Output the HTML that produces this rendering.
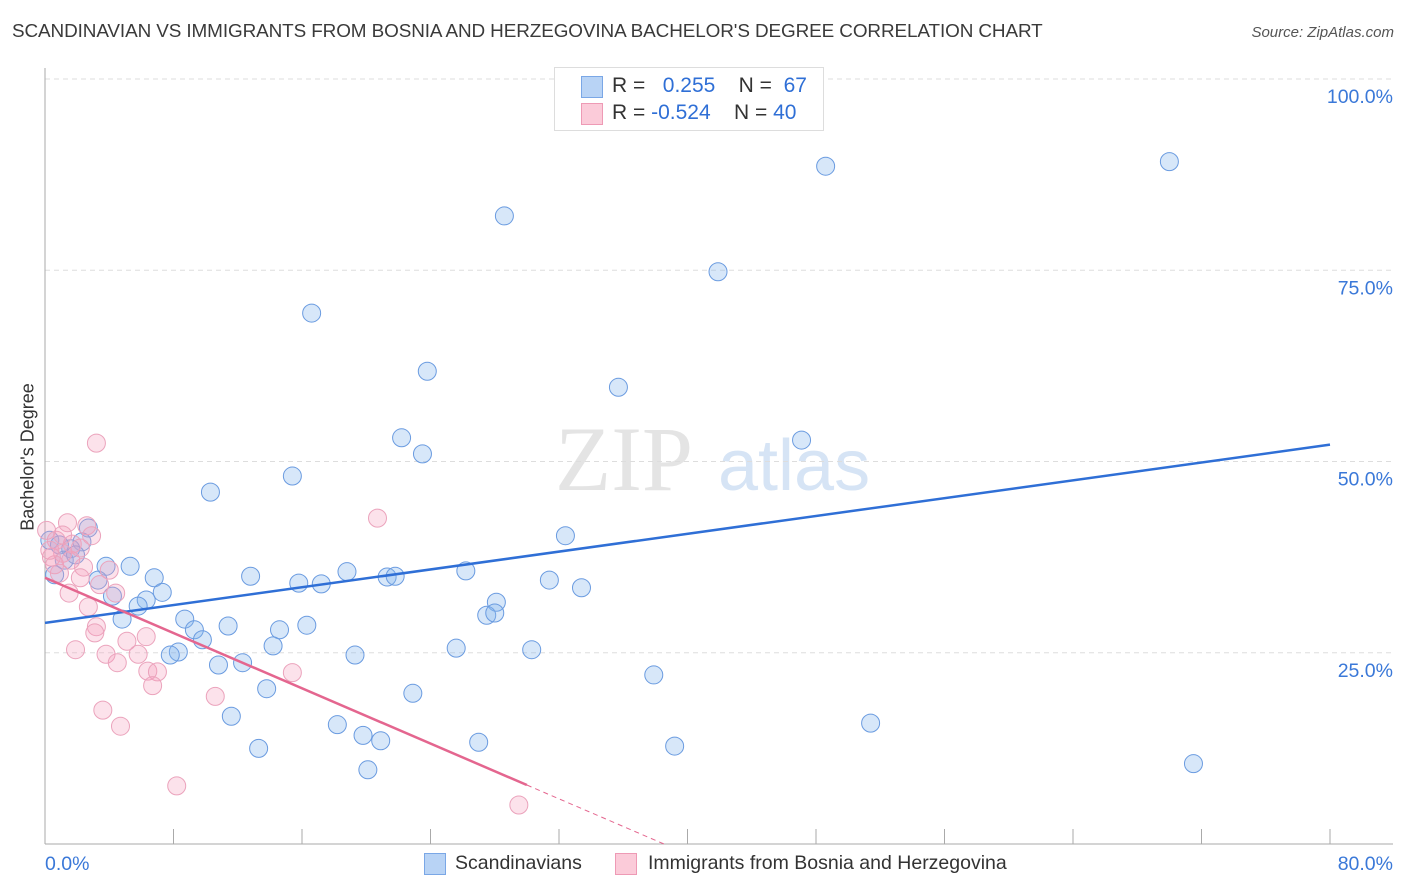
<!DOCTYPE html>
<html><head><meta charset="utf-8"><style>
body{margin:0;background:#fff;font-family:"Liberation Sans",sans-serif;}
#wrap{position:relative;width:1406px;height:892px;overflow:hidden;}
.t{position:absolute;white-space:nowrap;}
</style></head><body>
<div id="wrap">
<div class="t" style="left:12px;top:21px;font-size:18.9px;color:#3a3a3a;letter-spacing:-0.1px">SCANDINAVIAN VS IMMIGRANTS FROM BOSNIA AND HERZEGOVINA BACHELOR'S DEGREE CORRELATION CHART</div>
<div class="t" style="right:12px;top:24px;font-size:15px;color:#555;font-style:italic">Source: ZipAtlas.com</div>
<svg id="svg" width="1406" height="892" style="position:absolute;left:0;top:0"></svg>
<div class="t" style="left:28px;top:457px;transform:translate(-50%,-50%) rotate(-90deg);font-size:18px;color:#333">Bachelor's Degree</div>
<div style="position:absolute;left:554px;top:67px;width:268px;height:62px;border:1px solid #ddd;background:#fff;font-size:21px;">
 <div style="position:absolute;left:26px;top:8px;width:20px;height:20px;background:#b8d3f5;border:1px solid #7aa7e6"></div>
 <div class="t" style="left:57px;top:6px;color:#333">R = <span style="color:#2f6fd6">&nbsp;&nbsp;0.255</span>&nbsp;&nbsp;&nbsp; N = &nbsp;<span style="color:#2f6fd6">67</span></div>
 <div style="position:absolute;left:26px;top:35px;width:20px;height:20px;background:#fbcbd9;border:1px solid #ee9ab5"></div>
 <div class="t" style="left:57px;top:33px;color:#333">R = <span style="color:#2f6fd6">-0.524</span>&nbsp;&nbsp;&nbsp; N = <span style="color:#2f6fd6">40</span></div>
</div>
<div style="position:absolute;left:424px;top:853px;width:20px;height:20px;background:#b8d3f5;border:1px solid #7aa7e6"></div>
<div class="t" style="left:455px;top:852px;font-size:19.5px;color:#333">Scandinavians</div>
<div style="position:absolute;left:615px;top:853px;width:20px;height:20px;background:#fbcbd9;border:1px solid #ee9ab5"></div>
<div class="t" style="left:648px;top:852px;font-size:19.5px;color:#333">Immigrants from Bosnia and Herzegovina</div>
</div>
<script>
const blueX=[16.6,28.6,48.6,70.0,41.9,23.8,35.7,22.2,47.1,23.5,15.4,10.3,32.4,2.7,2.3,1.6,5.3,3.8,12.8,6.8,18.8,15.8,17.2,21.3,21.8,26.2,31.4,33.4,7.3,6.3,4.2,5.8,28.1,27.5,28.0,8.7,4.8,11.4,9.3,16.3,14.6,9.8,14.2,25.6,30.3,8.3,7.8,19.3,10.8,12.3,37.9,13.8,22.9,11.6,18.2,51.4,19.8,20.9,13.3,27.0,39.2,20.1,71.5,0.3,0.9,0.6,3.3,1.2,1.9];
const blueY=[69.4,82.1,88.6,89.2,74.8,61.8,59.7,53.1,52.8,51.0,48.1,46.0,40.3,41.3,39.5,38.6,36.3,36.3,35.0,34.8,35.6,34.1,34.0,34.9,35.0,35.7,34.5,33.5,32.9,31.9,32.4,31.1,31.6,29.9,30.2,29.4,29.4,28.5,28.0,28.6,28.0,26.7,25.9,25.6,25.4,25.1,24.7,24.7,23.4,23.7,22.1,20.3,19.7,16.7,15.6,15.8,14.2,13.5,12.5,13.3,12.8,9.7,10.5,39.7,39.1,35.2,34.5,37.1,37.8];
const pinkX=[3.2,20.7,1.4,2.6,0.1,2.9,0.7,1.7,2.2,1.1,0.4,2.4,4.0,0.9,2.2,1.5,4.4,2.7,3.2,3.1,6.3,5.1,1.9,3.8,5.8,4.5,6.4,7.0,6.7,15.4,10.6,3.6,4.7,8.2,29.5,0.6,0.3,3.4,1.1,1.6];
const pinkY=[52.4,42.6,42.0,41.6,41.0,40.3,39.7,39.2,38.7,38.0,37.5,36.2,35.8,35.4,34.8,32.8,32.8,31.0,28.4,27.6,27.1,26.5,25.4,24.8,24.8,23.7,22.6,22.5,20.7,22.4,19.3,17.5,15.4,7.6,5.1,36.5,38.4,33.9,40.4,37.1];
const blueTrend=[28.9,52.2]; // y at x=0 and x=80
const pinkTrend=[34.8,-0.903]; // intercept, slope
const yTicks=[25,50,75,100];
const xTicks=[0,8,16,24,32,40,48,56,64,72,80];
const NS="http://www.w3.org/2000/svg";
const svg=document.getElementById('svg');
const X=v=>45+v*16.0625, Y=v=>844-v*7.65;
function el(t,a){const e=document.createElementNS(NS,t);for(const k in a)e.setAttribute(k,a[k]);svg.appendChild(e);return e;}
let w=el('text',{x:555,y:490,'font-size':92,fill:'#e4e4e4','font-family':'Liberation Serif, serif'});w.textContent='ZIP';


let w2=el('text',{x:718,y:490,'font-size':72,fill:'#d6e4f5','font-family':'Liberation Sans, sans-serif'});w2.textContent='atlas';


yTicks.forEach(t=>{
 const g=el('line',{x1:45,x2:1393,y1:Y(t),y2:Y(t),stroke:'#ddd','stroke-dasharray':'5,4'});
 
 
 const l=el('text',{x:1393,y:Y(t)+24,'text-anchor':'end','font-size':19.5,fill:'#3a78d8','font-family':'Liberation Sans, sans-serif'});
 l.textContent=t.toFixed(1)+'%';
 
 
});
el('line',{x1:45,x2:45,y1:68,y2:844,stroke:'#aaa'});
el('line',{x1:45,x2:1393,y1:844,y2:844,stroke:'#aaa'});
xTicks.forEach(t=>{
 const tk=el('line',{x1:X(t),x2:X(t),y1:829,y2:844,stroke:'#aaa'});
 
 
});
[['0.0%',45,'start'],['80.0%',1393,'end']].forEach(([s,x,a])=>{
 const l=el('text',{x:x,y:870,'text-anchor':a,'font-size':19.5,fill:'#3a78d8','font-family':'Liberation Sans, sans-serif'});
 l.textContent=s;
 
 
});
blueX.forEach((x,i)=>{
 const c=el('circle',{cx:X(x),cy:Y(blueY[i]),r:9,fill:'rgba(130,180,235,0.32)',stroke:'#6a9be0','stroke-width':1});
 
 
});
pinkX.forEach((x,i)=>{
 const c=el('circle',{cx:X(x),cy:Y(pinkY[i]),r:9,fill:'rgba(245,160,190,0.3)',stroke:'#eba3bc','stroke-width':1});
 
 
});
const bl=el('line',{x1:X(0),y1:Y(blueTrend[0]),x2:X(80),y2:Y(blueTrend[1]),stroke:'#2f6fd6','stroke-width':2.5});


const pe=30, pz=-pinkTrend[0]/pinkTrend[1];
const pl=el('line',{x1:X(0),y1:Y(pinkTrend[0]),x2:X(pe),y2:Y(pinkTrend[0]+pinkTrend[1]*pe),stroke:'#e4668f','stroke-width':2.5});


const pd=el('line',{x1:X(pe),y1:Y(pinkTrend[0]+pinkTrend[1]*pe),x2:X(pz),y2:Y(0),stroke:'#e4668f','stroke-width':1,'stroke-dasharray':'5,4'});


</script>
</body></html>
